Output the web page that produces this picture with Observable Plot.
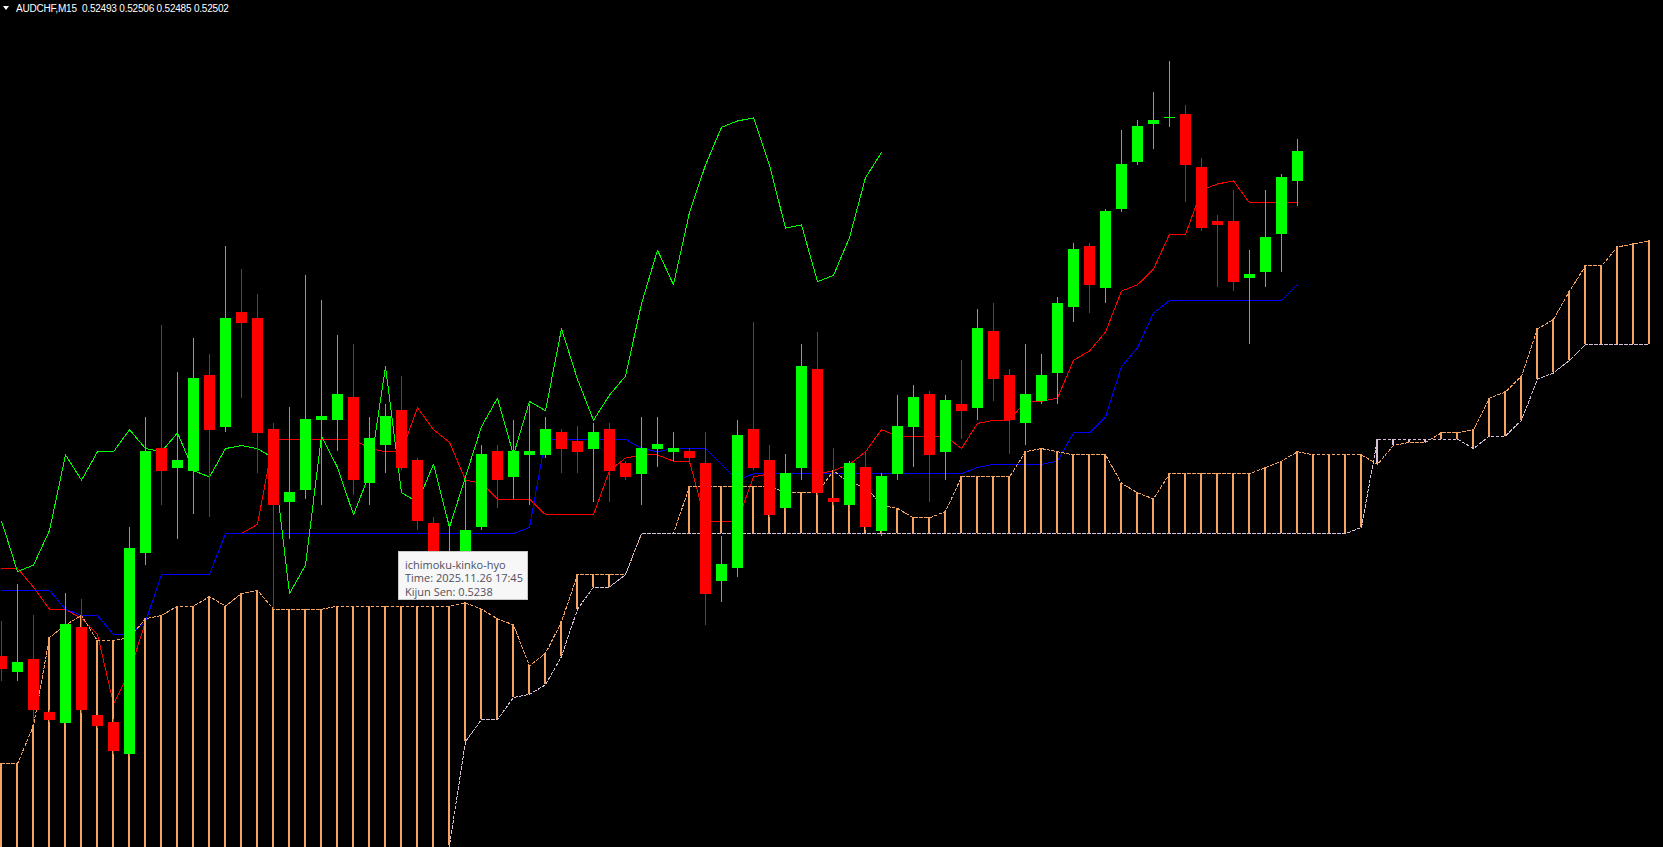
<!DOCTYPE html>
<html><head><meta charset="utf-8">
<script src="https://cdn.jsdelivr.net/npm/d3@7"></script>
<script src="https://cdn.jsdelivr.net/npm/@observablehq/plot@0.6"></script>
<style>
html,body{margin:0;padding:0;background:#000;overflow:hidden}
#wrap{position:relative;width:1663px;height:847px;background:#000}
#chart svg{display:block}
#title{position:absolute;left:0;top:0;height:17px;color:#fff;font:10px "Liberation Sans",Arial,sans-serif;letter-spacing:-0.2px;white-space:pre;line-height:17px}
#title .tri{position:absolute;left:3px;top:6px;width:0;height:0;border-left:3.5px solid transparent;border-right:3.5px solid transparent;border-top:4.5px solid #fff}
#title .txt{position:absolute;left:16px;top:0}
#tip{position:absolute;left:398px;top:551px;width:130px;height:49px;box-sizing:border-box;background:#f7f7f7;border:1px solid #c8c8c8;color:#505060;font:11px "Open Sans","Liberation Sans",sans-serif;padding:6px 0 0 6px;line-height:13.4px;white-space:pre}
</style></head><body>
<div id="wrap"><div id="chart"></div><div id="title"></div><div id="tip"></div></div>
<script>
const symbol = "AUDCHF,M15";
const tipLines = ["ichimoku-kinko-hyo", "Time: 2025.11.26 17:45", "Kijun Sen: 0.5238"];

const opens = [0.52342,0.52337,0.52341,0.52324,0.52321,0.52351,0.52323,0.52321,0.52311,0.52375,
0.52408,0.52402,0.52401,0.52431,0.52415,0.52451,0.52449,0.52414,0.52391,0.52395,
0.52417,0.52417,0.52424,0.52397,0.52409,0.52420,0.52404,0.52384,0.52370,0.52364,
0.52383,0.52407,0.52399,0.52406,0.52406,0.52413,0.52410,0.52408,0.52414,0.52403,
0.52400,0.52408,0.52407,0.52407,0.52403,0.52366,0.52370,0.52414,0.52404,0.52389,
0.52402,0.52433,0.52392,0.52390,0.52402,0.52382,0.52400,0.52415,0.52425,0.52407,
0.52422,0.52421,0.52445,0.52431,0.52416,0.52423,0.52432,0.52453,0.52472,0.52459,
0.52484,0.52499,0.52511,0.52513,0.52514,0.52497,0.52480,0.52480,0.52462,0.52464,
0.52476,0.52493];
const highs = [0.52353,0.52365,0.52355,0.52325,0.52362,0.52360,0.52323,0.52322,0.52383,0.52418,
0.52447,0.52432,0.52443,0.52438,0.52472,0.52465,0.52457,0.52416,0.52421,0.52463,
0.52455,0.52444,0.52441,0.52418,0.52422,0.52431,0.52405,0.52386,0.52384,0.52398,
0.52409,0.52409,0.52417,0.52422,0.52418,0.52414,0.52415,0.52416,0.52416,0.52404,
0.52418,0.52418,0.52413,0.52408,0.52413,0.52380,0.52417,0.52448,0.52409,0.52406,
0.52441,0.52445,0.52408,0.52404,0.52407,0.52400,0.52425,0.52428,0.52426,0.52425,
0.52436,0.52452,0.52454,0.52433,0.52441,0.52438,0.52456,0.52473,0.52473,0.52484,
0.52509,0.52512,0.52521,0.52531,0.52517,0.52500,0.52482,0.52490,0.52471,0.52490,
0.52495,0.52506];
const lows = [0.52334,0.52334,0.52321,0.52321,0.52320,0.52324,0.52319,0.52311,0.52310,0.52371,
0.52390,0.52379,0.52387,0.52386,0.52413,0.52424,0.52400,0.52357,0.52379,0.52392,
0.52390,0.52407,0.52393,0.52390,0.52400,0.52401,0.52382,0.52368,0.52366,0.52362,
0.52382,0.52389,0.52392,0.52390,0.52405,0.52400,0.52400,0.52391,0.52391,0.52398,
0.52390,0.52402,0.52404,0.52403,0.52352,0.52359,0.52367,0.52401,0.52386,0.52388,
0.52398,0.52393,0.52390,0.52388,0.52382,0.52380,0.52398,0.52402,0.52391,0.52398,
0.52411,0.52417,0.52423,0.52406,0.52409,0.52422,0.52422,0.52448,0.52451,0.52454,
0.52483,0.52498,0.52503,0.52510,0.52486,0.52477,0.52459,0.52458,0.52441,0.52459,
0.52464,0.52485];
const closes = [0.52338,0.52340,0.52325,0.52322,0.52352,0.52325,0.52320,0.52312,0.52376,0.52407,
0.52401,0.52404,0.52430,0.52414,0.52449,0.52448,0.52413,0.52390,0.52394,0.52417,
0.52418,0.52425,0.52398,0.52411,0.52418,0.52402,0.52385,0.52369,0.52371,0.52382,
0.52406,0.52398,0.52407,0.52407,0.52414,0.52408,0.52407,0.52413,0.52401,0.52399,
0.52408,0.52409,0.52408,0.52405,0.52362,0.52371,0.52412,0.52402,0.52387,0.52400,
0.52434,0.52394,0.52391,0.52403,0.52383,0.52399,0.52415,0.52424,0.52406,0.52423,
0.52420,0.52446,0.52430,0.52417,0.52425,0.52431,0.52454,0.52471,0.52460,0.52483,
0.52498,0.52510,0.52512,0.52513,0.52498,0.52478,0.52479,0.52461,0.52463,0.52475,
0.52494,0.52502];

const tenkan = [0.52370,0.52370,0.52364,0.52357,0.52357,0.52354,0.52349,0.52327,0.52337,0.52353,
0.52368,0.52368,0.52368,0.52368,0.52381,0.52381,0.52384,0.52411,0.52411,0.52411,
0.52411,0.52411,0.52411,0.52408,0.52407,0.52407,0.52421,0.52414,0.52410,0.52398,
0.52397,0.52392,0.52392,0.52392,0.52387,0.52387,0.52387,0.52387,0.52401,0.52405,
0.52406,0.52406,0.52404,0.52404,0.52385,0.52385,0.52385,0.52399,0.52400,0.52400,
0.52400,0.52400,0.52401,0.52403,0.52407,0.52414,0.52412,0.52412,0.52412,0.52412,
0.52408,0.52416,0.52417,0.52417,0.52423,0.52423,0.52424,0.52436,0.52439,0.52445,
0.52458,0.52460,0.52465,0.52476,0.52476,0.52490,0.52492,0.52493,0.52486,0.52486,
0.52486,0.52486];
const kijun = [0.52363,0.52363,0.52363,0.52363,0.52357,0.52355,0.52355,0.52349,0.52349,0.52353,
0.52368,0.52368,0.52368,0.52368,0.52381,0.52381,0.52381,0.52381,0.52381,0.52381,
0.52381,0.52381,0.52381,0.52381,0.52381,0.52381,0.52381,0.52381,0.52381,0.52381,
0.52381,0.52381,0.52381,0.52383,0.52411,0.52411,0.52411,0.52411,0.52411,0.52411,
0.52408,0.52407,0.52408,0.52408,0.52408,0.52403,0.52398,0.52400,0.52400,0.52400,
0.52400,0.52400,0.52400,0.52400,0.52400,0.52400,0.52400,0.52400,0.52400,0.52400,
0.52400,0.52402,0.52403,0.52403,0.52403,0.52403,0.52404,0.52413,0.52413,0.52418,
0.52434,0.52440,0.52451,0.52455,0.52455,0.52455,0.52455,0.52455,0.52455,0.52455,
0.52455,0.52460];
const chikou = [0.52385,0.52369,0.52371,0.52382,0.52406,0.52398,0.52407,0.52407,0.52414,0.52408,
0.52407,0.52413,0.52401,0.52399,0.52408,0.52409,0.52408,0.52405,0.52362,0.52371,
0.52412,0.52402,0.52387,0.52400,0.52434,0.52394,0.52391,0.52403,0.52383,0.52399,
0.52415,0.52424,0.52406,0.52423,0.52420,0.52446,0.52430,0.52417,0.52425,0.52431,
0.52454,0.52471,0.52460,0.52483,0.52498,0.52510,0.52512,0.52513,0.52498,0.52478,
0.52479,0.52461,0.52463,0.52475,0.52494,0.52502];
const senkouA = [0.52308,0.52308,0.52320,0.52348,0.52352,0.52355,0.52347,0.52347,0.52348,0.52354,
0.52355,0.52358,0.52358,0.52361,0.52358,0.52362,0.52363,0.52357,0.52357,0.52357,
0.52357,0.52358,0.52358,0.52358,0.52358,0.52358,0.52358,0.52358,0.52358,0.52359,
0.52357,0.52354,0.52352,0.52339,0.52343,0.52353,0.52368,0.52368,0.52368,0.52368,
0.52381,0.52381,0.52381,0.52396,0.52396,0.52396,0.52396,0.52396,0.52396,0.52394,
0.52394,0.52394,0.52401,0.52397,0.52396,0.52390,0.52389,0.52386,0.52386,0.52388,
0.52399,0.52399,0.52399,0.52399,0.52407,0.52408,0.52407,0.52406,0.52406,0.52406,
0.52397,0.52394,0.52392,0.52400,0.52400,0.52400,0.52400,0.52400,0.52400,0.52402,
0.52404,0.52407,0.52406,0.52406,0.52406,0.52406,0.52403,0.52409,0.52410,0.52410,
0.52413,0.52413,0.52414,0.52424,0.52426,0.52431,0.52446,0.52449,0.52458,0.52466,
0.52466,0.52472,0.52473,0.52474];
const senkouB = [0.52270,0.52270,0.52270,0.52270,0.52270,0.52270,0.52270,0.52270,0.52270,0.52270,
0.52270,0.52270,0.52270,0.52270,0.52270,0.52270,0.52270,0.52270,0.52270,0.52270,
0.52270,0.52270,0.52270,0.52270,0.52270,0.52270,0.52270,0.52270,0.52282,0.52315,
0.52322,0.52322,0.52329,0.52330,0.52333,0.52342,0.52357,0.52364,0.52364,0.52368,
0.52381,0.52381,0.52381,0.52381,0.52381,0.52381,0.52381,0.52381,0.52381,0.52381,
0.52381,0.52381,0.52381,0.52381,0.52381,0.52381,0.52381,0.52381,0.52381,0.52381,
0.52381,0.52381,0.52381,0.52381,0.52381,0.52381,0.52381,0.52381,0.52381,0.52381,
0.52381,0.52381,0.52381,0.52381,0.52381,0.52381,0.52381,0.52381,0.52381,0.52381,
0.52381,0.52381,0.52381,0.52381,0.52381,0.52383,0.52411,0.52411,0.52411,0.52411,
0.52411,0.52411,0.52408,0.52412,0.52412,0.52417,0.52430,0.52432,0.52436,0.52441,
0.52441,0.52441,0.52441,0.52441];

const UP = "#00FF00", DOWN = "#FF0000";
const candles = opens.map((o, i) => ({i, open: o, high: highs[i], low: lows[i], close: closes[i], col: closes[i] >= o ? UP : DOWN}));
const tenkanData = tenkan.map((v, i) => ({i, v}));
const kijunData = kijun.map((v, i) => ({i, v}));
const chikouData = chikou.map((v, i) => ({i, v}));
const cloud = senkouA.map((a, i) => ({i, a, b: senkouB[i]}));
const half = 5.5 / 16;
const crisp = {shapeRendering: "crispEdges"};

const chart = Plot.plot({
  width: 1663, height: 847,
  marginTop: 0, marginRight: 0, marginBottom: 0, marginLeft: 0,
  x: {type: "linear", domain: [-0.0625, 103.875], axis: null},
  y: {type: "linear", domain: [0.5228137, 0.5255025], axis: null},
  color: {type: "identity"},
  style: {background: "#000", overflow: "hidden"},
  marks: [
    Plot.line(tenkanData, {x: "i", y: "v", stroke: "#FF0000", strokeWidth: 1, ...crisp}),
    Plot.line(kijunData, {x: "i", y: "v", stroke: "#0000FF", strokeWidth: 1, ...crisp}),
    Plot.ruleX(cloud.filter(d => d.a !== d.b), {x: "i", y1: "a", y2: "b", stroke: d => d.a > d.b ? "#F4A460" : "#D8BFD8", strokeWidth: 2, dx: -0.5, ...crisp}),
    Plot.line(chikouData, {x: "i", y: "v", stroke: "#00FF00", strokeWidth: 1, ...crisp}),
    Plot.line(cloud, {x: "i", y: "a", stroke: "#F4A460", strokeWidth: 1, strokeDasharray: "3,2", ...crisp}),
    Plot.line(cloud, {x: "i", y: "b", stroke: "#D8BFD8", strokeWidth: 1, strokeDasharray: "3,2", ...crisp}),
    Plot.ruleX(candles, {x: "i", y1: "low", y2: "high", stroke: "col", strokeWidth: 1, ...crisp}),
    Plot.rect(candles, {x1: d => d.i - half, x2: d => d.i + half, y1: "open", y2: "close", fill: "col", insetTop: -0.5, insetBottom: -0.5, ...crisp})
  ]
});
document.getElementById("chart").appendChild(chart);

const last = opens.length - 1;
const t = document.getElementById("title");
t.innerHTML = '<span class="tri"></span><span class="txt"></span>';
t.querySelector(".txt").textContent = symbol + "  " + [opens[last], highs[last], lows[last], closes[last]].map(v => v.toFixed(5)).join(" ");
document.getElementById("tip").textContent = tipLines.join("\n");
</script>
</body></html>
